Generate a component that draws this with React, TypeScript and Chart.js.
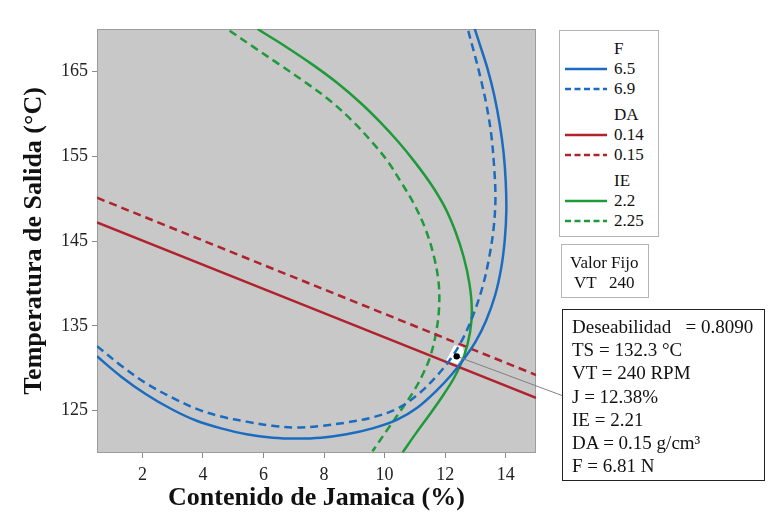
import React, { useEffect, useRef } from 'react';
import { Chart, registerables } from 'chart.js';
Chart.register(...registerables);

// ---------------- data ----------------
const xTickValues = [2, 4, 6, 8, 10, 12, 14];
const yTickValues = [125, 135, 145, 155, 165];
const xRange = [0.5, 15];
const yRange = [120, 170];

// F contours
const f65: number[][] = [
  [0.5, 131.4], [1.3, 129.0], [2.13, 126.9], [3.0, 125.1], [3.79, 123.8], [4.6, 122.9], [5.44, 122.2],
  [6.3, 121.8], [7.1, 121.7], [7.9, 121.8], [8.74, 122.2], [9.6, 122.9], [10.4, 123.9], [11.1, 125.4],
  [11.7, 127.3], [12.2, 129.2], [12.6, 131.0], [13.0, 133.1], [13.35, 135.6], [13.65, 138.6],
  [13.85, 141.8], [13.97, 145.2], [14.02, 148.6], [14.0, 152.0], [13.93, 155.4], [13.8, 158.8],
  [13.62, 162.2], [13.4, 165.3], [13.17, 167.9], [12.96, 170.2],
];
const f69: number[][] = [
  [0.5, 132.6], [1.3, 130.3], [2.13, 128.2], [3.0, 126.5], [3.79, 125.2], [4.6, 124.3], [5.44, 123.7],
  [6.3, 123.2], [7.1, 123.0], [7.9, 123.2], [8.74, 123.6], [9.6, 124.2], [10.4, 125.2], [11.1, 126.9],
  [11.7, 129.0], [12.2, 131.2], [12.6, 133.6], [12.96, 136.6], [13.25, 139.8], [13.45, 143.0],
  [13.6, 146.5], [13.66, 150.0], [13.62, 153.6], [13.52, 157.6], [13.35, 161.3], [13.15, 164.5],
  [12.95, 167.3], [12.73, 170.2],
];
// DA contours
const da014: number[][] = [[0.5, 147.2], [15, 126.5]];
const da015: number[][] = [[0.5, 150.1], [15, 129.2]];
// IE contours
const ie22: number[][] = [
  [5.8, 170.0], [6.7, 168.0], [7.62, 165.8], [8.45, 163.6], [9.2, 161.3], [9.83, 159.1], [10.45, 156.7],
  [11.0, 154.3], [11.55, 151.6], [12.0, 148.9], [12.35, 146.0], [12.62, 143.0], [12.8, 140.0],
  [12.88, 137.0], [12.82, 134.2], [12.62, 131.4], [12.3, 128.9], [11.95, 126.9], [11.5, 124.6],
  [11.05, 122.4], [10.6, 120.1],
];
const ie225: number[][] = [
  [4.88, 169.8], [5.7, 167.8], [6.53, 165.8], [7.35, 163.8], [8.18, 161.6], [8.95, 159.1], [9.6, 156.6],
  [10.1, 154.4], [10.55, 151.9], [10.98, 149.3], [11.35, 146.4], [11.62, 143.3], [11.78, 140.2],
  [11.8, 137.2], [11.7, 134.2], [11.5, 131.3], [11.25, 129.2], [10.98, 127.4], [10.55, 125.1],
  [10.08, 122.7], [9.6, 120.2],
];
// feasible (white) region and optimum
const feasible: number[][] = [
  [12.03, 130.9], [12.3, 132.7], [12.57, 132.5], [12.64, 131.7], [12.4, 130.5], [12.03, 130.9],
];
const optimum = [12.38, 131.4];

const legendGroups = [
  { title: 'F', items: ['6.5', '6.9'] },
  { title: 'DA', items: ['0.14', '0.15'] },
  { title: 'IE', items: ['2.2', '2.25'] },
];
const fixedTitle = 'Valor Fijo';
const fixedValue = ['VT', '240'];
const annotationLines = [
  'Deseabilidad   = 0.8090',
  'TS = 132.3 °C',
  'VT = 240 RPM',
  'J = 12.38%',
  'IE = 2.21',
  'DA = 0.15 g/cm³',
  'F = 6.81 N',
];

// ---------------- styles ----------------
const W = 783, H = 522;
const SERIF = '"Liberation Serif", "Times New Roman", serif';
const BLUE = '#1b6cc0';
const RED = '#b0222c';
const GREEN = '#1f9a3a';
const groupColors = [BLUE, RED, GREEN];
const DASH = [8, 5];
const ANNO = { left: 562, top: 309, width: 204, height: 173 };

export default function App() {
  const ref = useRef<HTMLCanvasElement>(null);

  useEffect(() => {
    if (!ref.current) return;
    const bgPlugin = {
      id: 'plotbg',
      beforeDatasetsDraw(chart: any) {
        const { ctx, chartArea: a } = chart;
        ctx.save();
        ctx.fillStyle = '#c8c8c8';
        ctx.fillRect(a.left, a.top, a.right - a.left, a.bottom - a.top);
        ctx.strokeStyle = '#9c9c9c';
        ctx.lineWidth = 1;
        ctx.strokeRect(a.left + 0.5, a.top + 0.5, a.right - a.left - 1, a.bottom - a.top - 1);
        ctx.restore();
      },
    };
    const connector = {
      id: 'connector',
      afterDatasetsDraw(chart: any) {
        const { ctx } = chart;
        const x = chart.scales.x.getPixelForValue(optimum[0]);
        const y = chart.scales.y.getPixelForValue(optimum[1]);
        ctx.save();
        ctx.strokeStyle = '#808080';
        ctx.lineWidth = 1;
        ctx.beginPath();
        ctx.moveTo(x, y);
        ctx.lineTo(ANNO.left, ANNO.top + ANNO.height / 2);
        ctx.stroke();
        ctx.fillStyle = '#000';
        ctx.beginPath();
        ctx.arc(x, y, 3.2, 0, Math.PI * 2);
        ctx.fill();
        ctx.restore();
      },
    };
    const mk = (label: string, pts: number[][], color: string, dashed: boolean) => ({
      type: 'line',
      label,
      data: pts.map(([x, y]) => ({ x, y })),
      borderColor: color,
      borderWidth: 2.5,
      borderDash: dashed ? DASH : [],
      pointRadius: 0,
      tension: 0.35,
      fill: false,
      order: 0,
    });
    const datasets: any[] = [
      {
        type: 'line',
        label: 'region',
        data: feasible.map(([x, y]) => ({ x, y })),
        borderWidth: 0,
        borderColor: 'rgba(0,0,0,0)',
        backgroundColor: '#ffffff',
        fill: 'shape',
        pointRadius: 0,
        tension: 0,
        order: 10,
      },
      mk('F 6.5', f65, BLUE, false),
      mk('F 6.9', f69, BLUE, true),
      mk('DA 0.14', da014, RED, false),
      mk('DA 0.15', da015, RED, true),
      mk('IE 2.2', ie22, GREEN, false),
      mk('IE 2.25', ie225, GREEN, true),
    ];
    const chart = new Chart(ref.current, {
      type: 'line',
      data: { datasets },
      options: {
        responsive: false,
        animation: false,
        devicePixelRatio: 1,
        layout: { padding: { top: 29, right: W - 536, left: 0, bottom: 0 } },
        plugins: { legend: { display: false }, tooltip: { enabled: false } },
        scales: {
          x: {
            type: 'linear',
            min: xRange[0],
            max: xRange[1],
            afterBuildTicks: (s: any) => { s.ticks = xTickValues.map((v) => ({ value: v })); },
            afterFit: (s: any) => { s.height = 69; },
            grid: { display: true, drawOnChartArea: false, drawTicks: true, tickLength: 5, color: '#8a8a8a' },
            border: { display: false },
            ticks: { font: { family: SERIF, size: 18 }, color: '#222', padding: 6, maxRotation: 0 },
            title: {
              display: true,
              text: 'Contenido de Jamaica (%)',
              font: { family: SERIF, size: 26, weight: 'bold' },
              color: '#111',
              padding: { top: 0, bottom: 8 },
            },
          },
          y: {
            type: 'linear',
            min: yRange[0],
            max: yRange[1],
            afterBuildTicks: (s: any) => { s.ticks = yTickValues.map((v) => ({ value: v })); },
            afterFit: (s: any) => { s.width = 97; },
            grid: { display: true, drawOnChartArea: false, drawTicks: true, tickLength: 5, color: '#8a8a8a' },
            border: { display: false },
            ticks: { font: { family: SERIF, size: 18 }, color: '#222', padding: 4 },
            title: {
              display: true,
              text: 'Temperatura de Salida (°C)',
              font: { family: SERIF, size: 26, weight: 'bold' },
              color: '#111',
              padding: { top: 19, bottom: 0 },
            },
          },
        },
      },
      plugins: [bgPlugin, connector],
    } as any);
    return () => chart.destroy();
  }, []);

  const textStyle: React.CSSProperties = {
    position: 'absolute',
    fontFamily: SERIF,
    fontSize: 17,
    lineHeight: '20px',
    color: '#111',
    whiteSpace: 'pre',
  };

  const legendRows: React.ReactNode[] = [];
  let rowY = 38;
  legendGroups.forEach((g, gi) => {
    legendRows.push(
      <div key={'t' + gi} style={{ ...textStyle, left: 54, top: rowY - 30 }}>{g.title}</div>
    );
    rowY += 20;
    g.items.forEach((it, ii) => {
      legendRows.push(
        <svg key={'s' + gi + ii} width={44} height={6} style={{ position: 'absolute', left: 5, top: rowY - 30 + 7 }}>
          <line x1={0} y1={3} x2={42} y2={3} stroke={groupColors[gi]} strokeWidth={2.5}
            strokeDasharray={ii === 1 ? '6 3.5' : undefined} />
        </svg>
      );
      legendRows.push(
        <div key={'v' + gi + ii} style={{ ...textStyle, left: 54, top: rowY - 30 }}>{it}</div>
      );
      rowY += 20;
    });
    rowY += 6;
  });

  return (
    <div style={{ position: 'fixed', left: 0, top: 0, width: W, height: H, background: '#fff' }}>
      <canvas ref={ref} width={W} height={H} style={{ position: 'absolute', left: 0, top: 0 }} />
      <div style={{ position: 'absolute', left: 559, top: 30, width: 98, height: 205, border: '1px solid #b4b4b4', background: '#fff' }}>
        {legendRows}
      </div>
      <div style={{ position: 'absolute', left: 561, top: 244, width: 86, height: 52, border: '1px solid #b4b4b4', background: '#fff' }}>
        <div style={{ ...textStyle, left: 8, top: 8 }}>{fixedTitle}</div>
        <div style={{ ...textStyle, left: 12, top: 28 }}>{fixedValue[0]}</div>
        <div style={{ ...textStyle, left: 47, top: 28 }}>{fixedValue[1]}</div>
      </div>
      <div style={{ position: 'absolute', left: ANNO.left, top: ANNO.top, width: ANNO.width - 3, height: ANNO.height - 3, border: '1.5px solid #222', background: '#fff' }}>
        {annotationLines.map((t, i) => (
          <div key={i} style={{ ...textStyle, fontSize: 19, left: 9, top: 6 + i * 23.2, lineHeight: '22px' }}>{t}</div>
        ))}
      </div>
    </div>
  );
}
